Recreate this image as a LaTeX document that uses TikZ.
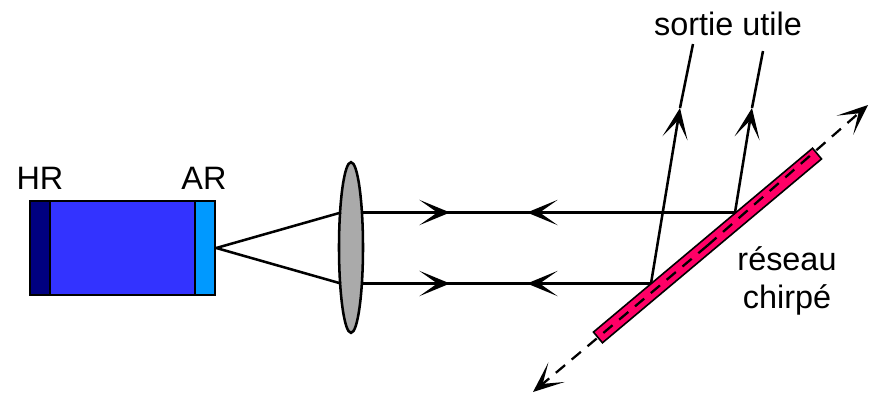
\documentclass[tikz,border=0pt]{standalone}
\usepackage{fontspec}
\setmainfont{Liberation Sans}
\usetikzlibrary{arrows.meta,shapes.geometric}

\definecolor{hrblue}{HTML}{000080}
\definecolor{gainblue}{HTML}{3333FF}
\definecolor{arblue}{HTML}{0099FF}
\definecolor{lensgray}{HTML}{AAAAAA}
\definecolor{gratingred}{HTML}{FF0066}

\tikzset{
  part/.style={draw,line width=1.9pt,minimum height=70.5pt,inner sep=0pt},
  beam/.style={line width=1.9pt},
  beamtip/.style={beam,-{Stealth[length=23pt,width=19pt,inset=13.5pt]}},
  axe/.style={line width=1.7pt,dash pattern=on 9pt off 6.5pt,-{Stealth[length=23pt,width=19pt,inset=13.5pt]}},
  label/.style={font=\fontsize{24.3}{28.5}\selectfont,inner sep=0pt}
}

\begin{document}
\begin{tikzpicture}[x=0.75pt,y=-0.75pt]
\useasboundingbox (0,0) rectangle (869,394);

% Laser
\node[part,fill=gainblue,minimum width=108.75pt] (gain) at (122.5,248) {};
\node[part,fill=hrblue,minimum width=15pt] (HR) at (40,248) {};
\node[part,fill=arblue,minimum width=15pt] (AR) at (205,248) {};
\node[label] (HRtxt) at (40,178) {HR};
\node[label] (ARtxt) at (204,178) {AR};

% Lens and grating
\node[ellipse,draw,line width=1.9pt,fill=lensgray,minimum width=18pt,minimum height=128pt,inner sep=0pt] (lens) at (351,247.5) {};
\coordinate (lensA) at (341,212.5);
\coordinate (lensB) at (341,283.5);
\coordinate (outA) at (362,212.5);
\coordinate (outB) at (362,283.5);
\coordinate (hitA) at (735,212.5);
\coordinate (hitB) at (651,283.5);

\draw[beam] (AR.east) -- (lensA);
\draw[beam] (AR.east) -- (lensB);

% Beams, forward and back
\coordinate (fwdA) at (450,212.5);
\coordinate (fwdB) at (450,283.5);
\coordinate (backA) at (527,212.5);
\coordinate (backB) at (527,283.5);
\draw[beam] (outA) -- (hitA);
\draw[beam] (outB) -- (hitB);
\draw[beamtip] (outA) -- (fwdA);
\draw[beamtip] (outB) -- (fwdB);
\draw[beamtip] (hitA) -- (backA);
\draw[beamtip] (hitB) -- (backB);

% Useful output
\coordinate (tipA) at (752,108);
\coordinate (tipB) at (680,108);
\coordinate (endA) at (763,51);
\coordinate (endB) at (693,44);
\draw[beamtip] (hitA) -- (tipA);
\draw[beamtip] (hitB) -- (tipB);
\draw[beam] (tipA) -- (endA);
\draw[beam] (tipB) -- (endB);

\node[draw,line width=1.2pt,fill=gratingred,rotate=40,minimum width=214.5pt,minimum height=10.5pt,inner sep=0pt] (grating) at (707.5,245.5) {};
\coordinate (axeA) at (868,105);
\coordinate (axeB) at (533,392);
\draw[axe] (grating.center) -- (axeA);
\draw[axe] (grating.center) -- (axeB);

\node[label] (sortie) at (728,24) {sortie utile};
\node[label,align=center] (reseau) at (787,281) {réseau\\chirpé};
\end{tikzpicture}
\end{document}
